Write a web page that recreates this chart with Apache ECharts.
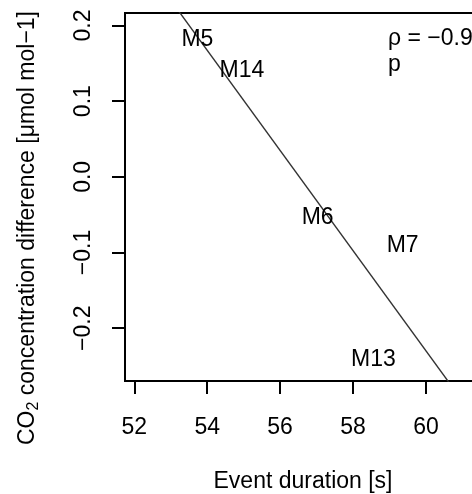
<!DOCTYPE html>
<html>
<head>
<meta charset="utf-8">
<script src="https://cdn.jsdelivr.net/npm/echarts@6/dist/echarts.min.js"></script>
<style>
    html, body { margin: 0; padding: 0; background: #fff; overflow: hidden; }
    /* plot box runs past the right edge of the picture, as in the source */
    #main { width: 500px; height: 494px; }
</style>
</head>
<body>
<div id="main"></div>
<script>
    // values
    var runNames = ['M5', 'M14', 'M6', 'M7', 'M13'];
    var durations = [53.73, 54.95, 57.03, 59.36, 58.56];
    var co2Diff = [0.181, 0.140, -0.054, -0.091, -0.242];
    var xTicks = [52, 54, 56, 58, 60];
    var yTicks = [-0.2, -0.1, 0, 0.1, 0.2];
    var statText = ['ρ = −0.9', 'p'];

    var FONT = '"Liberation Sans", Arial, sans-serif';
    var xMin = 51.745, xMax = 61.51;
    var yMin = -0.2698, yMax = 0.2165;

    // least squares line through the points
    function fitLine (xs, ys) {
        var n = xs.length, mx = 0, my = 0, sxy = 0, sxx = 0;
        xs.forEach(function (x, i) { mx += x / n; my += ys[i] / n; });
        xs.forEach(function (x, i) {
            sxy += (x - mx) * (ys[i] - my);
            sxx += (x - mx) * (x - mx);
        });
        var slope = sxy / sxx;
        return { slope: slope, icpt: my - slope * mx };
    }
    var fit = fitLine(durations, co2Diff);
    var fitData = [xMin, xMax].map(function (x) {
        return [x, fit.icpt + fit.slope * x];
    });

    var pointData = durations.map(function (x, i) {
        return [x, co2Diff[i]];
    });

    var myChart = echarts.init(document.getElementById('main'));
    var option = {
        animation: false,
        backgroundColor: '#fff',
        textStyle: { fontFamily: FONT },
        grid: {
            left: 125,
            top: 13,
            width: 356,
            height: 368,
            outerBoundsMode: 'none', // keep the box where it is, labels may overflow
            show: true,
            borderColor: '#000',
            borderWidth: 2,
            backgroundColor: 'transparent'
        },
        xAxis: {
            type: 'value',
            min: xMin,
            max: xMax,
            splitLine: { show: false },
            axisLine: { show: false, onZero: false },
            axisTick: {
                show: true,
                customValues: xTicks,
                length: 13,
                lineStyle: { color: '#000', width: 2 }
            },
            axisLabel: {
                customValues: xTicks,
                margin: 35,
                color: '#000',
                fontSize: 23,
                fontFamily: FONT,
                formatter: function (v) { return String(v); }
            },
            name: 'Event duration [s]',
            nameLocation: 'middle',
            nameGap: 89,
            nameTextStyle: { color: '#000', fontSize: 23, fontFamily: FONT }
        },
        yAxis: {
            type: 'value',
            min: yMin,
            max: yMax,
            splitLine: { show: false },
            axisLine: { show: false, onZero: false },
            axisTick: {
                show: true,
                customValues: yTicks,
                length: 13,
                lineStyle: { color: '#000', width: 2 }
            },
            axisLabel: {
                customValues: yTicks,
                rotate: 90,
                margin: 30,
                color: '#000',
                fontSize: 23,
                fontFamily: FONT,
                formatter: function (v) {
                    return v.toFixed(1).replace('-', '\u2212');
                }
            }
        },
        graphic: [
            {
                type: 'text',
                x: 28,
                y: 228,
                rotation: Math.PI / 2,
                style: {
                    text: '{a|CO}{s|2}{a| concentration difference [μmol mol−1]}',
                    align: 'center',
                    verticalAlign: 'middle',
                    rich: {
                        a: { fontSize: 23, fontFamily: FONT, fill: '#000' },
                        s: { fontSize: 16, fontFamily: FONT, fill: '#000', padding: [12, 0, 0, 0] }
                    }
                }
            },
            {
                type: 'text',
                x: 388,
                y: 39,
                style: {
                    text: statText[0],
                    fontSize: 23,
                    fontFamily: FONT,
                    fill: '#000',
                    verticalAlign: 'middle'
                }
            },
            {
                type: 'text',
                x: 388,
                y: 65,
                style: {
                    text: statText[1],
                    fontSize: 23,
                    fontFamily: FONT,
                    fill: '#000',
                    verticalAlign: 'middle'
                }
            }
        ],
        series: [
            {
                type: 'line',
                data: fitData,
                symbol: 'none',
                clip: true,
                lineStyle: { color: '#333', width: 1.4 },
                silent: true,
                z: 2
            },
            {
                type: 'scatter',
                data: pointData,
                symbolSize: 0,
                itemStyle: { color: '#000', opacity: 1 },
                label: {
                    show: true,
                    position: 'inside',
                    color: '#000',
                    opacity: 1,
                    fontSize: 23,
                    fontFamily: FONT,
                    formatter: function (p) { return runNames[p.dataIndex]; }
                },
                z: 3
            }
        ]
    };
    myChart.setOption(option);
</script>
</body>
</html>
